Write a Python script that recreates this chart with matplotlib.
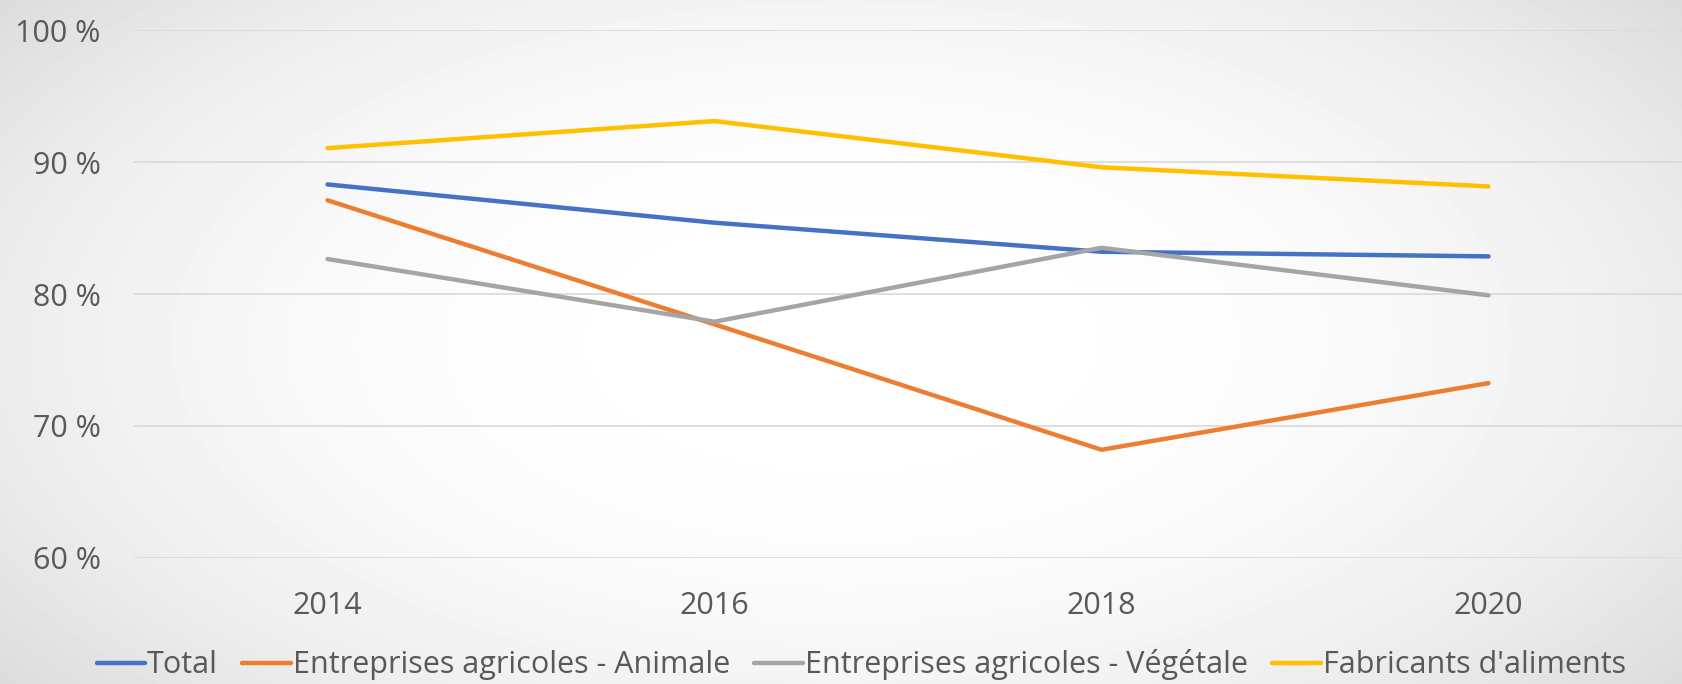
import matplotlib.pyplot as plt
import numpy as np

years = ["2014", "2016", "2018", "2020"]
total = [88.3, 85.4, 83.2, 82.85]
animale = [87.1, 77.7, 68.2, 73.25]
vegetale = [82.65, 77.9, 83.5, 79.9]
fabricants = [91.05, 93.1, 89.6, 88.15]

series = [
    ("Total", total, "#4472C4"),
    ("Entreprises agricoles - Animale", animale, "#ED7D31"),
    ("Entreprises agricoles - Végétale", vegetale, "#A5A5A5"),
    ("Fabricants d'aliments", fabricants, "#FFC000"),
]

plt.rcParams['font.family'] = ['Open Sans', 'DejaVu Sans']
W, H = 1682, 684
fig = plt.figure(figsize=(W / 100, H / 100), dpi=100)

# radial gradient background
bg = fig.add_axes([0, 0, 1, 1])
yy, xx = np.mgrid[0:H, 0:W]
r = np.sqrt(((xx - W * 0.5) / (W * 0.6)) ** 2 + ((yy - H * 0.5) / (H * 0.75)) ** 2)
shade = 1.0 - 0.12 * np.clip(r, 0, 1.2) ** 2.5
bg.imshow(shade, cmap="gray", vmin=0, vmax=1, aspect="auto", interpolation="bilinear")
bg.set_axis_off()

ax = fig.add_axes([134 / W, 1 - 558 / H, 1 - 134 / W, (558 - 30) / H])
ax.patch.set_alpha(0)
x = np.arange(len(years))
for name, vals, col in series:
    ax.plot(x, vals, color=col, lw=3.2, label=name, solid_capstyle="round")

ax.set_xlim(-0.5, len(years) - 0.5)
ax.set_ylim(60, 100)
ax.set_yticks([60, 70, 80, 90, 100])
ax.set_yticklabels([f"{v} %" for v in [60, 70, 80, 90, 100]])
ax.set_xticks(x)
ax.set_xticklabels(years)
ax.grid(axis="y", color="#D9D9D9", lw=1.2)
ax.set_axisbelow(True)
for s in ax.spines.values():
    s.set_visible(False)
ax.tick_params(length=0, labelsize=22, colors="#595959")
ax.tick_params(axis="x", pad=24)
ax.tick_params(axis="y", pad=24)

fig.legend(loc="center", bbox_to_anchor=(0.512, 0.028), ncol=4, frameon=False,
           fontsize=22, handlelength=1.6, handletextpad=0.05, columnspacing=0.8,
           labelcolor="#595959")

fig.savefig("out.png", dpi=100)
